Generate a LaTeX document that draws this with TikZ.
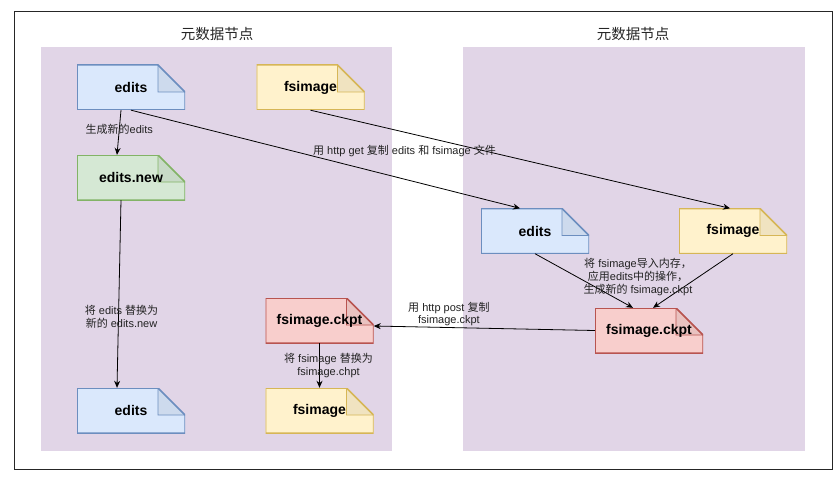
\documentclass[tikz,border=0pt]{standalone}
\usepackage{fontspec}
\setmainfont{Liberation Sans}
\newfontfamily\cjk{Noto Sans CJK SC}
\newcommand\zh[1]{{\cjk #1}}
\usetikzlibrary{arrows.meta}
\definecolor{panelfill}{HTML}{E1D5E7}
\definecolor{bluefill}{HTML}{DAE8FC}
\definecolor{bluedraw}{HTML}{6C8EBF}
\definecolor{yellowfill}{HTML}{FFF2CC}
\definecolor{yellowdraw}{HTML}{D6B656}
\definecolor{greenfill}{HTML}{D5E8D4}
\definecolor{greendraw}{HTML}{82B366}
\definecolor{redfill}{HTML}{F8CECC}
\definecolor{reddraw}{HTML}{B85450}
\definecolor{labeltext}{HTML}{222222}

\tikzset{
  note/.style 2 args={minimum width=108pt, minimum height=45pt, inner sep=0pt,
    font=\bfseries\fontsize{14}{16}\selectfont,
    path picture={
      \fill[#1] (path picture bounding box.south west) -- (path picture bounding box.north west)
        -- ([xshift=-27pt]path picture bounding box.north east) -- ([yshift=-27pt]path picture bounding box.north east)
        -- (path picture bounding box.south east) -- cycle;
      \fill[#1!94!black] ([xshift=-27pt]path picture bounding box.north east)
        -- ([xshift=-27pt,yshift=-27pt]path picture bounding box.north east)
        -- ([yshift=-27pt]path picture bounding box.north east) -- cycle;
      \draw[#2, line width=1.5pt] (path picture bounding box.south west) -- (path picture bounding box.north west)
        -- ([xshift=-27pt]path picture bounding box.north east) -- ([yshift=-27pt]path picture bounding box.north east)
        -- (path picture bounding box.south east) -- cycle;
      \draw[#2, line width=0.7pt] ([xshift=-27pt]path picture bounding box.north east)
        -- ([xshift=-27pt,yshift=-27pt]path picture bounding box.north east)
        -- ([yshift=-27pt]path picture bounding box.north east) -- cycle;
    }},
  flow/.style={-{Stealth[length=7pt,width=6pt]}, line width=0.8pt, black},
  lbl/.style={font=\fontsize{11}{12.8}\selectfont, text=labeltext, align=center, inner sep=1pt},
  title/.style={font=\cjk\fontsize{14.5}{16}\selectfont, text=black!85}
}

\begin{document}
\begin{tikzpicture}[x=1pt, y=-1pt]
\useasboundingbox (0,0) rectangle (834,476);
\draw[line width=0.9pt, black!85] (14,11) rectangle (832,469);

% two metadata nodes
\fill[panelfill] (41,47) rectangle (392,451);
\fill[panelfill] (463,47) rectangle (805,451);
\node[title] (t1) at (217,34) {元数据节点};
\node[title] (t2) at (633,34) {元数据节点};

% left side
\node[note={bluefill}{bluedraw}] (e1) at (131,87.5) {edits};
\node[note={yellowfill}{yellowdraw}] (f1) at (310.5,87.5) {fsimage};
\node[note={greenfill}{greendraw}] (en) at (131,177.5) {edits.new};
\node[note={bluefill}{bluedraw}] (e2) at (131,410.5) {edits};
\node[note={redfill}{reddraw}] (c1) at (319.5,320.5) {fsimage.ckpt};
\node[note={yellowfill}{yellowdraw}] (f3) at (319.5,410.5) {fsimage};

% right side
\node[note={bluefill}{bluedraw}] (e3) at (535,231) {edits};
\node[note={yellowfill}{yellowdraw}] (f2) at (733,231) {fsimage};
\node[note={redfill}{reddraw}] (c2) at (649,330.5) {fsimage.ckpt};

\draw[flow] ([xshift=-10pt]e1.south) -- node[lbl, pos=0.42] {\zh{生成新的}edits} ([xshift=-14pt]en.north);
\draw[flow] (e1.south) -- ([xshift=-15pt]e3.north);
\draw[flow] (f1.south) -- ([xshift=-3pt]f2.north);
\node[lbl] (getlbl) at (404.5,151) {\zh{用} http get \zh{复制} edits \zh{和} fsimage \zh{文件}};
\draw[flow] ([xshift=-10pt]en.south) -- node[lbl, pos=0.62, xshift=3pt] {\zh{将} edits \zh{替换为}\\\zh{新的} edits.new} ([xshift=-14pt]e2.north);

\draw[flow] (e3.south) -- ([xshift=-16pt]c2.north);
\draw[flow] (f2.south) -- ([xshift=4pt]c2.north);
\node[lbl] (mergelbl) at (638,277) {\zh{将} fsimage\zh{导入内存，}\\\zh{应用}edits\zh{中的操作，}\\\zh{生成新的} fsimage.ckpt};

\draw[flow] (c2.west) -- node[lbl, pos=0.66, above=0pt] {\zh{用} http post \zh{复制}\\fsimage.ckpt} ([yshift=-5.5pt]c1.east);
\draw[flow] (c1.south) -- node[lbl, midway, xshift=9pt] {\zh{将} fsimage \zh{替换为}\\fsimage.chpt} (f3.north);
\end{tikzpicture}
\end{document}
